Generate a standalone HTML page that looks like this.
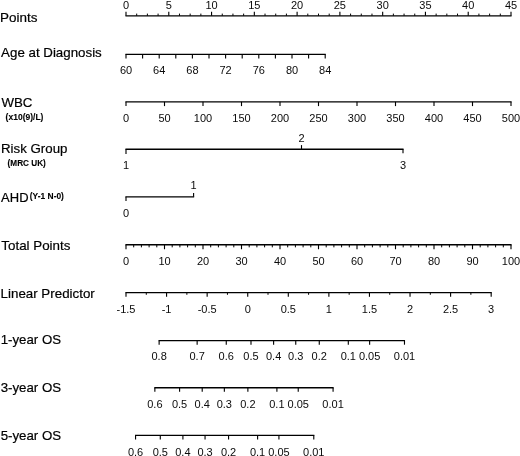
<!DOCTYPE html>
<html><head><meta charset="utf-8"><title>Nomogram</title>
<style>
html,body{margin:0;padding:0;background:#fff;overflow:hidden}
svg{display:block}
text{font-family:"Liberation Sans",sans-serif;fill:#000;}
.t{font-size:11px;fill:#0a0a0a}
.m{font-size:13.4px;stroke:#000;stroke-width:0.2px}
.s{font-size:8.2px;font-weight:bold;stroke:#000;stroke-width:0.1px}
</style></head><body>
<svg width="520" height="456" viewBox="0 0 520 456">
<rect width="520" height="456" fill="#fff"/>
<line x1="125.44" y1="15.80" x2="511.56" y2="15.80" stroke="#000" stroke-width="1.35"/>
<line x1="126.00" y1="15.80" x2="126.00" y2="11.80" stroke="#000" stroke-width="1.12"/>
<text x="126.00" y="8.70" class="t" text-anchor="middle">0</text>
<line x1="136.69" y1="15.80" x2="136.69" y2="13.60" stroke="#000" stroke-width="1.0"/>
<line x1="147.39" y1="15.80" x2="147.39" y2="13.60" stroke="#000" stroke-width="1.0"/>
<line x1="158.08" y1="15.80" x2="158.08" y2="13.60" stroke="#000" stroke-width="1.0"/>
<line x1="168.78" y1="15.80" x2="168.78" y2="11.80" stroke="#000" stroke-width="1.12"/>
<text x="168.78" y="8.70" class="t" text-anchor="middle">5</text>
<line x1="179.47" y1="15.80" x2="179.47" y2="13.60" stroke="#000" stroke-width="1.0"/>
<line x1="190.17" y1="15.80" x2="190.17" y2="13.60" stroke="#000" stroke-width="1.0"/>
<line x1="200.86" y1="15.80" x2="200.86" y2="13.60" stroke="#000" stroke-width="1.0"/>
<line x1="211.56" y1="15.80" x2="211.56" y2="11.80" stroke="#000" stroke-width="1.12"/>
<text x="211.56" y="8.70" class="t" text-anchor="middle">10</text>
<line x1="222.25" y1="15.80" x2="222.25" y2="13.60" stroke="#000" stroke-width="1.0"/>
<line x1="232.94" y1="15.80" x2="232.94" y2="13.60" stroke="#000" stroke-width="1.0"/>
<line x1="243.64" y1="15.80" x2="243.64" y2="13.60" stroke="#000" stroke-width="1.0"/>
<line x1="254.33" y1="15.80" x2="254.33" y2="11.80" stroke="#000" stroke-width="1.12"/>
<text x="254.33" y="8.70" class="t" text-anchor="middle">15</text>
<line x1="265.03" y1="15.80" x2="265.03" y2="13.60" stroke="#000" stroke-width="1.0"/>
<line x1="275.72" y1="15.80" x2="275.72" y2="13.60" stroke="#000" stroke-width="1.0"/>
<line x1="286.42" y1="15.80" x2="286.42" y2="13.60" stroke="#000" stroke-width="1.0"/>
<line x1="297.11" y1="15.80" x2="297.11" y2="11.80" stroke="#000" stroke-width="1.12"/>
<text x="297.11" y="8.70" class="t" text-anchor="middle">20</text>
<line x1="307.81" y1="15.80" x2="307.81" y2="13.60" stroke="#000" stroke-width="1.0"/>
<line x1="318.50" y1="15.80" x2="318.50" y2="13.60" stroke="#000" stroke-width="1.0"/>
<line x1="329.19" y1="15.80" x2="329.19" y2="13.60" stroke="#000" stroke-width="1.0"/>
<line x1="339.89" y1="15.80" x2="339.89" y2="11.80" stroke="#000" stroke-width="1.12"/>
<text x="339.89" y="8.70" class="t" text-anchor="middle">25</text>
<line x1="350.58" y1="15.80" x2="350.58" y2="13.60" stroke="#000" stroke-width="1.0"/>
<line x1="361.28" y1="15.80" x2="361.28" y2="13.60" stroke="#000" stroke-width="1.0"/>
<line x1="371.97" y1="15.80" x2="371.97" y2="13.60" stroke="#000" stroke-width="1.0"/>
<line x1="382.67" y1="15.80" x2="382.67" y2="11.80" stroke="#000" stroke-width="1.12"/>
<text x="382.67" y="8.70" class="t" text-anchor="middle">30</text>
<line x1="393.36" y1="15.80" x2="393.36" y2="13.60" stroke="#000" stroke-width="1.0"/>
<line x1="404.06" y1="15.80" x2="404.06" y2="13.60" stroke="#000" stroke-width="1.0"/>
<line x1="414.75" y1="15.80" x2="414.75" y2="13.60" stroke="#000" stroke-width="1.0"/>
<line x1="425.44" y1="15.80" x2="425.44" y2="11.80" stroke="#000" stroke-width="1.12"/>
<text x="425.44" y="8.70" class="t" text-anchor="middle">35</text>
<line x1="436.14" y1="15.80" x2="436.14" y2="13.60" stroke="#000" stroke-width="1.0"/>
<line x1="446.83" y1="15.80" x2="446.83" y2="13.60" stroke="#000" stroke-width="1.0"/>
<line x1="457.53" y1="15.80" x2="457.53" y2="13.60" stroke="#000" stroke-width="1.0"/>
<line x1="468.22" y1="15.80" x2="468.22" y2="11.80" stroke="#000" stroke-width="1.12"/>
<text x="468.22" y="8.70" class="t" text-anchor="middle">40</text>
<line x1="478.92" y1="15.80" x2="478.92" y2="13.60" stroke="#000" stroke-width="1.0"/>
<line x1="489.61" y1="15.80" x2="489.61" y2="13.60" stroke="#000" stroke-width="1.0"/>
<line x1="500.31" y1="15.80" x2="500.31" y2="13.60" stroke="#000" stroke-width="1.0"/>
<line x1="511.00" y1="15.80" x2="511.00" y2="11.80" stroke="#000" stroke-width="1.12"/>
<text x="511.00" y="8.70" class="t" text-anchor="middle">45</text>
<line x1="125.44" y1="54.30" x2="325.76" y2="54.30" stroke="#000" stroke-width="1.35"/>
<line x1="126.00" y1="54.30" x2="126.00" y2="58.40" stroke="#000" stroke-width="1.12"/>
<text x="126.00" y="74.20" class="t" text-anchor="middle">60</text>
<line x1="142.60" y1="54.30" x2="142.60" y2="58.40" stroke="#000" stroke-width="1.12"/>
<line x1="159.20" y1="54.30" x2="159.20" y2="58.40" stroke="#000" stroke-width="1.12"/>
<text x="159.20" y="74.20" class="t" text-anchor="middle">64</text>
<line x1="175.80" y1="54.30" x2="175.80" y2="58.40" stroke="#000" stroke-width="1.12"/>
<line x1="192.40" y1="54.30" x2="192.40" y2="58.40" stroke="#000" stroke-width="1.12"/>
<text x="192.40" y="74.20" class="t" text-anchor="middle">68</text>
<line x1="209.00" y1="54.30" x2="209.00" y2="58.40" stroke="#000" stroke-width="1.12"/>
<line x1="225.60" y1="54.30" x2="225.60" y2="58.40" stroke="#000" stroke-width="1.12"/>
<text x="225.60" y="74.20" class="t" text-anchor="middle">72</text>
<line x1="242.20" y1="54.30" x2="242.20" y2="58.40" stroke="#000" stroke-width="1.12"/>
<line x1="258.80" y1="54.30" x2="258.80" y2="58.40" stroke="#000" stroke-width="1.12"/>
<text x="258.80" y="74.20" class="t" text-anchor="middle">76</text>
<line x1="275.40" y1="54.30" x2="275.40" y2="58.40" stroke="#000" stroke-width="1.12"/>
<line x1="292.00" y1="54.30" x2="292.00" y2="58.40" stroke="#000" stroke-width="1.12"/>
<text x="292.00" y="74.20" class="t" text-anchor="middle">80</text>
<line x1="308.60" y1="54.30" x2="308.60" y2="58.40" stroke="#000" stroke-width="1.12"/>
<line x1="325.20" y1="54.30" x2="325.20" y2="58.40" stroke="#000" stroke-width="1.12"/>
<text x="325.20" y="74.20" class="t" text-anchor="middle">84</text>
<line x1="125.44" y1="101.80" x2="511.56" y2="101.80" stroke="#000" stroke-width="1.35"/>
<line x1="126.00" y1="101.80" x2="126.00" y2="106.10" stroke="#000" stroke-width="1.12"/>
<text x="126.00" y="121.80" class="t" text-anchor="middle">0</text>
<line x1="164.50" y1="101.80" x2="164.50" y2="106.10" stroke="#000" stroke-width="1.12"/>
<text x="164.50" y="121.80" class="t" text-anchor="middle">50</text>
<line x1="203.00" y1="101.80" x2="203.00" y2="106.10" stroke="#000" stroke-width="1.12"/>
<text x="203.00" y="121.80" class="t" text-anchor="middle">100</text>
<line x1="241.50" y1="101.80" x2="241.50" y2="106.10" stroke="#000" stroke-width="1.12"/>
<text x="241.50" y="121.80" class="t" text-anchor="middle">150</text>
<line x1="280.00" y1="101.80" x2="280.00" y2="106.10" stroke="#000" stroke-width="1.12"/>
<text x="280.00" y="121.80" class="t" text-anchor="middle">200</text>
<line x1="318.50" y1="101.80" x2="318.50" y2="106.10" stroke="#000" stroke-width="1.12"/>
<text x="318.50" y="121.80" class="t" text-anchor="middle">250</text>
<line x1="357.00" y1="101.80" x2="357.00" y2="106.10" stroke="#000" stroke-width="1.12"/>
<text x="357.00" y="121.80" class="t" text-anchor="middle">300</text>
<line x1="395.50" y1="101.80" x2="395.50" y2="106.10" stroke="#000" stroke-width="1.12"/>
<text x="395.50" y="121.80" class="t" text-anchor="middle">350</text>
<line x1="434.00" y1="101.80" x2="434.00" y2="106.10" stroke="#000" stroke-width="1.12"/>
<text x="434.00" y="121.80" class="t" text-anchor="middle">400</text>
<line x1="472.50" y1="101.80" x2="472.50" y2="106.10" stroke="#000" stroke-width="1.12"/>
<text x="472.50" y="121.80" class="t" text-anchor="middle">450</text>
<line x1="511.00" y1="101.80" x2="511.00" y2="106.10" stroke="#000" stroke-width="1.12"/>
<text x="511.00" y="121.80" class="t" text-anchor="middle">500</text>
<line x1="125.44" y1="149.20" x2="403.56" y2="149.20" stroke="#000" stroke-width="1.35"/>
<line x1="126.00" y1="149.20" x2="126.00" y2="153.90" stroke="#000" stroke-width="1.12"/>
<text x="126.00" y="169.40" class="t" text-anchor="middle">1</text>
<line x1="301.50" y1="149.20" x2="301.50" y2="145.10" stroke="#000" stroke-width="1.12"/>
<text x="301.50" y="141.60" class="t" text-anchor="middle">2</text>
<line x1="403.00" y1="149.20" x2="403.00" y2="153.30" stroke="#000" stroke-width="1.12"/>
<text x="403.00" y="169.40" class="t" text-anchor="middle">3</text>
<line x1="125.44" y1="196.80" x2="194.16" y2="196.80" stroke="#000" stroke-width="1.35"/>
<line x1="126.00" y1="196.80" x2="126.00" y2="200.90" stroke="#000" stroke-width="1.12"/>
<text x="126.00" y="217.20" class="t" text-anchor="middle">0</text>
<line x1="193.60" y1="196.80" x2="193.60" y2="192.90" stroke="#000" stroke-width="1.12"/>
<text x="193.60" y="189.40" class="t" text-anchor="middle">1</text>
<line x1="125.44" y1="244.75" x2="511.56" y2="244.75" stroke="#000" stroke-width="1.35"/>
<line x1="126.00" y1="244.75" x2="126.00" y2="249.25" stroke="#000" stroke-width="1.12"/>
<text x="126.00" y="264.50" class="t" text-anchor="middle">0</text>
<line x1="133.70" y1="244.75" x2="133.70" y2="247.35" stroke="#000" stroke-width="1.0"/>
<line x1="141.40" y1="244.75" x2="141.40" y2="247.35" stroke="#000" stroke-width="1.0"/>
<line x1="149.10" y1="244.75" x2="149.10" y2="247.35" stroke="#000" stroke-width="1.0"/>
<line x1="156.80" y1="244.75" x2="156.80" y2="247.35" stroke="#000" stroke-width="1.0"/>
<line x1="164.50" y1="244.75" x2="164.50" y2="249.25" stroke="#000" stroke-width="1.12"/>
<text x="164.50" y="264.50" class="t" text-anchor="middle">10</text>
<line x1="172.20" y1="244.75" x2="172.20" y2="247.35" stroke="#000" stroke-width="1.0"/>
<line x1="179.90" y1="244.75" x2="179.90" y2="247.35" stroke="#000" stroke-width="1.0"/>
<line x1="187.60" y1="244.75" x2="187.60" y2="247.35" stroke="#000" stroke-width="1.0"/>
<line x1="195.30" y1="244.75" x2="195.30" y2="247.35" stroke="#000" stroke-width="1.0"/>
<line x1="203.00" y1="244.75" x2="203.00" y2="249.25" stroke="#000" stroke-width="1.12"/>
<text x="203.00" y="264.50" class="t" text-anchor="middle">20</text>
<line x1="210.70" y1="244.75" x2="210.70" y2="247.35" stroke="#000" stroke-width="1.0"/>
<line x1="218.40" y1="244.75" x2="218.40" y2="247.35" stroke="#000" stroke-width="1.0"/>
<line x1="226.10" y1="244.75" x2="226.10" y2="247.35" stroke="#000" stroke-width="1.0"/>
<line x1="233.80" y1="244.75" x2="233.80" y2="247.35" stroke="#000" stroke-width="1.0"/>
<line x1="241.50" y1="244.75" x2="241.50" y2="249.25" stroke="#000" stroke-width="1.12"/>
<text x="241.50" y="264.50" class="t" text-anchor="middle">30</text>
<line x1="249.20" y1="244.75" x2="249.20" y2="247.35" stroke="#000" stroke-width="1.0"/>
<line x1="256.90" y1="244.75" x2="256.90" y2="247.35" stroke="#000" stroke-width="1.0"/>
<line x1="264.60" y1="244.75" x2="264.60" y2="247.35" stroke="#000" stroke-width="1.0"/>
<line x1="272.30" y1="244.75" x2="272.30" y2="247.35" stroke="#000" stroke-width="1.0"/>
<line x1="280.00" y1="244.75" x2="280.00" y2="249.25" stroke="#000" stroke-width="1.12"/>
<text x="280.00" y="264.50" class="t" text-anchor="middle">40</text>
<line x1="287.70" y1="244.75" x2="287.70" y2="247.35" stroke="#000" stroke-width="1.0"/>
<line x1="295.40" y1="244.75" x2="295.40" y2="247.35" stroke="#000" stroke-width="1.0"/>
<line x1="303.10" y1="244.75" x2="303.10" y2="247.35" stroke="#000" stroke-width="1.0"/>
<line x1="310.80" y1="244.75" x2="310.80" y2="247.35" stroke="#000" stroke-width="1.0"/>
<line x1="318.50" y1="244.75" x2="318.50" y2="249.25" stroke="#000" stroke-width="1.12"/>
<text x="318.50" y="264.50" class="t" text-anchor="middle">50</text>
<line x1="326.20" y1="244.75" x2="326.20" y2="247.35" stroke="#000" stroke-width="1.0"/>
<line x1="333.90" y1="244.75" x2="333.90" y2="247.35" stroke="#000" stroke-width="1.0"/>
<line x1="341.60" y1="244.75" x2="341.60" y2="247.35" stroke="#000" stroke-width="1.0"/>
<line x1="349.30" y1="244.75" x2="349.30" y2="247.35" stroke="#000" stroke-width="1.0"/>
<line x1="357.00" y1="244.75" x2="357.00" y2="249.25" stroke="#000" stroke-width="1.12"/>
<text x="357.00" y="264.50" class="t" text-anchor="middle">60</text>
<line x1="364.70" y1="244.75" x2="364.70" y2="247.35" stroke="#000" stroke-width="1.0"/>
<line x1="372.40" y1="244.75" x2="372.40" y2="247.35" stroke="#000" stroke-width="1.0"/>
<line x1="380.10" y1="244.75" x2="380.10" y2="247.35" stroke="#000" stroke-width="1.0"/>
<line x1="387.80" y1="244.75" x2="387.80" y2="247.35" stroke="#000" stroke-width="1.0"/>
<line x1="395.50" y1="244.75" x2="395.50" y2="249.25" stroke="#000" stroke-width="1.12"/>
<text x="395.50" y="264.50" class="t" text-anchor="middle">70</text>
<line x1="403.20" y1="244.75" x2="403.20" y2="247.35" stroke="#000" stroke-width="1.0"/>
<line x1="410.90" y1="244.75" x2="410.90" y2="247.35" stroke="#000" stroke-width="1.0"/>
<line x1="418.60" y1="244.75" x2="418.60" y2="247.35" stroke="#000" stroke-width="1.0"/>
<line x1="426.30" y1="244.75" x2="426.30" y2="247.35" stroke="#000" stroke-width="1.0"/>
<line x1="434.00" y1="244.75" x2="434.00" y2="249.25" stroke="#000" stroke-width="1.12"/>
<text x="434.00" y="264.50" class="t" text-anchor="middle">80</text>
<line x1="441.70" y1="244.75" x2="441.70" y2="247.35" stroke="#000" stroke-width="1.0"/>
<line x1="449.40" y1="244.75" x2="449.40" y2="247.35" stroke="#000" stroke-width="1.0"/>
<line x1="457.10" y1="244.75" x2="457.10" y2="247.35" stroke="#000" stroke-width="1.0"/>
<line x1="464.80" y1="244.75" x2="464.80" y2="247.35" stroke="#000" stroke-width="1.0"/>
<line x1="472.50" y1="244.75" x2="472.50" y2="249.25" stroke="#000" stroke-width="1.12"/>
<text x="472.50" y="264.50" class="t" text-anchor="middle">90</text>
<line x1="480.20" y1="244.75" x2="480.20" y2="247.35" stroke="#000" stroke-width="1.0"/>
<line x1="487.90" y1="244.75" x2="487.90" y2="247.35" stroke="#000" stroke-width="1.0"/>
<line x1="495.60" y1="244.75" x2="495.60" y2="247.35" stroke="#000" stroke-width="1.0"/>
<line x1="503.30" y1="244.75" x2="503.30" y2="247.35" stroke="#000" stroke-width="1.0"/>
<line x1="511.00" y1="244.75" x2="511.00" y2="249.25" stroke="#000" stroke-width="1.12"/>
<text x="511.00" y="264.50" class="t" text-anchor="middle">100</text>
<line x1="125.44" y1="292.60" x2="491.74" y2="292.60" stroke="#000" stroke-width="1.35"/>
<line x1="126.00" y1="292.60" x2="126.00" y2="296.80" stroke="#000" stroke-width="1.12"/>
<text x="126.00" y="312.70" class="t" text-anchor="middle">-1.5</text>
<line x1="146.29" y1="292.60" x2="146.29" y2="294.80" stroke="#000" stroke-width="1.0"/>
<line x1="166.57" y1="292.60" x2="166.57" y2="296.80" stroke="#000" stroke-width="1.12"/>
<text x="166.57" y="312.70" class="t" text-anchor="middle">-1</text>
<line x1="186.86" y1="292.60" x2="186.86" y2="294.80" stroke="#000" stroke-width="1.0"/>
<line x1="207.15" y1="292.60" x2="207.15" y2="296.80" stroke="#000" stroke-width="1.12"/>
<text x="207.15" y="312.70" class="t" text-anchor="middle">-0.5</text>
<line x1="227.44" y1="292.60" x2="227.44" y2="294.80" stroke="#000" stroke-width="1.0"/>
<line x1="247.73" y1="292.60" x2="247.73" y2="296.80" stroke="#000" stroke-width="1.12"/>
<text x="247.73" y="312.70" class="t" text-anchor="middle">0</text>
<line x1="268.01" y1="292.60" x2="268.01" y2="294.80" stroke="#000" stroke-width="1.0"/>
<line x1="288.30" y1="292.60" x2="288.30" y2="296.80" stroke="#000" stroke-width="1.12"/>
<text x="288.30" y="312.70" class="t" text-anchor="middle">0.5</text>
<line x1="308.59" y1="292.60" x2="308.59" y2="294.80" stroke="#000" stroke-width="1.0"/>
<line x1="328.88" y1="292.60" x2="328.88" y2="296.80" stroke="#000" stroke-width="1.12"/>
<text x="328.88" y="312.70" class="t" text-anchor="middle">1</text>
<line x1="349.16" y1="292.60" x2="349.16" y2="294.80" stroke="#000" stroke-width="1.0"/>
<line x1="369.45" y1="292.60" x2="369.45" y2="296.80" stroke="#000" stroke-width="1.12"/>
<text x="369.45" y="312.70" class="t" text-anchor="middle">1.5</text>
<line x1="389.74" y1="292.60" x2="389.74" y2="294.80" stroke="#000" stroke-width="1.0"/>
<line x1="410.03" y1="292.60" x2="410.03" y2="296.80" stroke="#000" stroke-width="1.12"/>
<text x="410.03" y="312.70" class="t" text-anchor="middle">2</text>
<line x1="430.31" y1="292.60" x2="430.31" y2="294.80" stroke="#000" stroke-width="1.0"/>
<line x1="450.60" y1="292.60" x2="450.60" y2="296.80" stroke="#000" stroke-width="1.12"/>
<text x="450.60" y="312.70" class="t" text-anchor="middle">2.5</text>
<line x1="470.89" y1="292.60" x2="470.89" y2="294.80" stroke="#000" stroke-width="1.0"/>
<line x1="491.18" y1="292.60" x2="491.18" y2="296.80" stroke="#000" stroke-width="1.12"/>
<text x="491.18" y="312.70" class="t" text-anchor="middle">3</text>
<line x1="158.57" y1="340.60" x2="405.04" y2="340.60" stroke="#000" stroke-width="1.35"/>
<line x1="159.13" y1="340.60" x2="159.13" y2="344.70" stroke="#000" stroke-width="1.12"/>
<text x="159.13" y="360.30" class="t" text-anchor="middle">0.8</text>
<line x1="197.14" y1="340.60" x2="197.14" y2="344.70" stroke="#000" stroke-width="1.12"/>
<text x="197.14" y="360.30" class="t" text-anchor="middle">0.7</text>
<line x1="226.26" y1="340.60" x2="226.26" y2="344.70" stroke="#000" stroke-width="1.12"/>
<text x="226.26" y="360.30" class="t" text-anchor="middle">0.6</text>
<line x1="250.99" y1="340.60" x2="250.99" y2="344.70" stroke="#000" stroke-width="1.12"/>
<text x="250.99" y="360.30" class="t" text-anchor="middle">0.5</text>
<line x1="273.61" y1="340.60" x2="273.61" y2="344.70" stroke="#000" stroke-width="1.12"/>
<text x="273.61" y="360.30" class="t" text-anchor="middle">0.4</text>
<line x1="295.75" y1="340.60" x2="295.75" y2="344.70" stroke="#000" stroke-width="1.12"/>
<text x="295.75" y="360.30" class="t" text-anchor="middle">0.3</text>
<line x1="319.27" y1="340.60" x2="319.27" y2="344.70" stroke="#000" stroke-width="1.12"/>
<text x="319.27" y="360.30" class="t" text-anchor="middle">0.2</text>
<line x1="348.30" y1="340.60" x2="348.30" y2="344.70" stroke="#000" stroke-width="1.12"/>
<text x="348.30" y="360.30" class="t" text-anchor="middle">0.1</text>
<line x1="369.63" y1="340.60" x2="369.63" y2="344.70" stroke="#000" stroke-width="1.12"/>
<text x="369.63" y="360.30" class="t" text-anchor="middle">0.05</text>
<line x1="404.48" y1="340.60" x2="404.48" y2="344.70" stroke="#000" stroke-width="1.12"/>
<text x="404.48" y="360.30" class="t" text-anchor="middle">0.01</text>
<line x1="154.30" y1="387.70" x2="333.64" y2="387.70" stroke="#000" stroke-width="1.35"/>
<line x1="154.86" y1="387.70" x2="154.86" y2="391.80" stroke="#000" stroke-width="1.12"/>
<text x="154.86" y="407.60" class="t" text-anchor="middle">0.6</text>
<line x1="179.59" y1="387.70" x2="179.59" y2="391.80" stroke="#000" stroke-width="1.12"/>
<text x="179.59" y="407.60" class="t" text-anchor="middle">0.5</text>
<line x1="202.21" y1="387.70" x2="202.21" y2="391.80" stroke="#000" stroke-width="1.12"/>
<text x="202.21" y="407.60" class="t" text-anchor="middle">0.4</text>
<line x1="224.35" y1="387.70" x2="224.35" y2="391.80" stroke="#000" stroke-width="1.12"/>
<text x="224.35" y="407.60" class="t" text-anchor="middle">0.3</text>
<line x1="247.87" y1="387.70" x2="247.87" y2="391.80" stroke="#000" stroke-width="1.12"/>
<text x="247.87" y="407.60" class="t" text-anchor="middle">0.2</text>
<line x1="276.90" y1="387.70" x2="276.90" y2="391.80" stroke="#000" stroke-width="1.12"/>
<text x="276.90" y="407.60" class="t" text-anchor="middle">0.1</text>
<line x1="298.23" y1="387.70" x2="298.23" y2="391.80" stroke="#000" stroke-width="1.12"/>
<text x="298.23" y="407.60" class="t" text-anchor="middle">0.05</text>
<line x1="333.08" y1="387.70" x2="333.08" y2="391.80" stroke="#000" stroke-width="1.12"/>
<text x="333.08" y="407.60" class="t" text-anchor="middle">0.01</text>
<line x1="135.00" y1="435.30" x2="314.34" y2="435.30" stroke="#000" stroke-width="1.35"/>
<line x1="135.56" y1="435.30" x2="135.56" y2="439.40" stroke="#000" stroke-width="1.12"/>
<text x="135.56" y="456.20" class="t" text-anchor="middle">0.6</text>
<line x1="160.29" y1="435.30" x2="160.29" y2="439.40" stroke="#000" stroke-width="1.12"/>
<text x="160.29" y="456.20" class="t" text-anchor="middle">0.5</text>
<line x1="182.91" y1="435.30" x2="182.91" y2="439.40" stroke="#000" stroke-width="1.12"/>
<text x="182.91" y="456.20" class="t" text-anchor="middle">0.4</text>
<line x1="205.05" y1="435.30" x2="205.05" y2="439.40" stroke="#000" stroke-width="1.12"/>
<text x="205.05" y="456.20" class="t" text-anchor="middle">0.3</text>
<line x1="228.57" y1="435.30" x2="228.57" y2="439.40" stroke="#000" stroke-width="1.12"/>
<text x="228.57" y="456.20" class="t" text-anchor="middle">0.2</text>
<line x1="257.60" y1="435.30" x2="257.60" y2="439.40" stroke="#000" stroke-width="1.12"/>
<text x="257.60" y="456.20" class="t" text-anchor="middle">0.1</text>
<line x1="278.93" y1="435.30" x2="278.93" y2="439.40" stroke="#000" stroke-width="1.12"/>
<text x="278.93" y="456.20" class="t" text-anchor="middle">0.05</text>
<line x1="313.78" y1="435.30" x2="313.78" y2="439.40" stroke="#000" stroke-width="1.12"/>
<text x="313.78" y="456.20" class="t" text-anchor="middle">0.01</text>
<text x="-0.00" y="21.90" class="m" textLength="37.35" lengthAdjust="spacingAndGlyphs">Points</text>
<text x="1.12" y="57.40" class="m" textLength="100.63" lengthAdjust="spacingAndGlyphs">Age at Diagnosis</text>
<text x="1.40" y="106.90" class="m" textLength="30.97" lengthAdjust="spacingAndGlyphs">WBC</text>
<text x="5.61" y="119.70" class="s" textLength="37.81" lengthAdjust="spacingAndGlyphs">(x10(9)/L)</text>
<text x="1.01" y="153.20" class="m" textLength="66.47" lengthAdjust="spacingAndGlyphs">Risk Group</text>
<text x="7.62" y="165.50" class="s" textLength="38.20" lengthAdjust="spacingAndGlyphs">(MRC UK)</text>
<text x="1.12" y="202.20" class="m" textLength="27.39" lengthAdjust="spacingAndGlyphs">AHD</text>
<text x="29.81" y="199.30" class="s" textLength="34.14" lengthAdjust="spacingAndGlyphs">(Y-1 N-0)</text>
<text x="1.35" y="250.00" class="m" textLength="69.01" lengthAdjust="spacingAndGlyphs">Total Points</text>
<text x="0.60" y="297.60" class="m" textLength="94.15" lengthAdjust="spacingAndGlyphs">Linear Predictor</text>
<text x="0.74" y="343.80" class="m" textLength="60.29" lengthAdjust="spacingAndGlyphs">1-year OS</text>
<text x="0.63" y="391.50" class="m" textLength="60.50" lengthAdjust="spacingAndGlyphs">3-year OS</text>
<text x="0.63" y="439.50" class="m" textLength="60.50" lengthAdjust="spacingAndGlyphs">5-year OS</text>
</svg>
</body></html>
